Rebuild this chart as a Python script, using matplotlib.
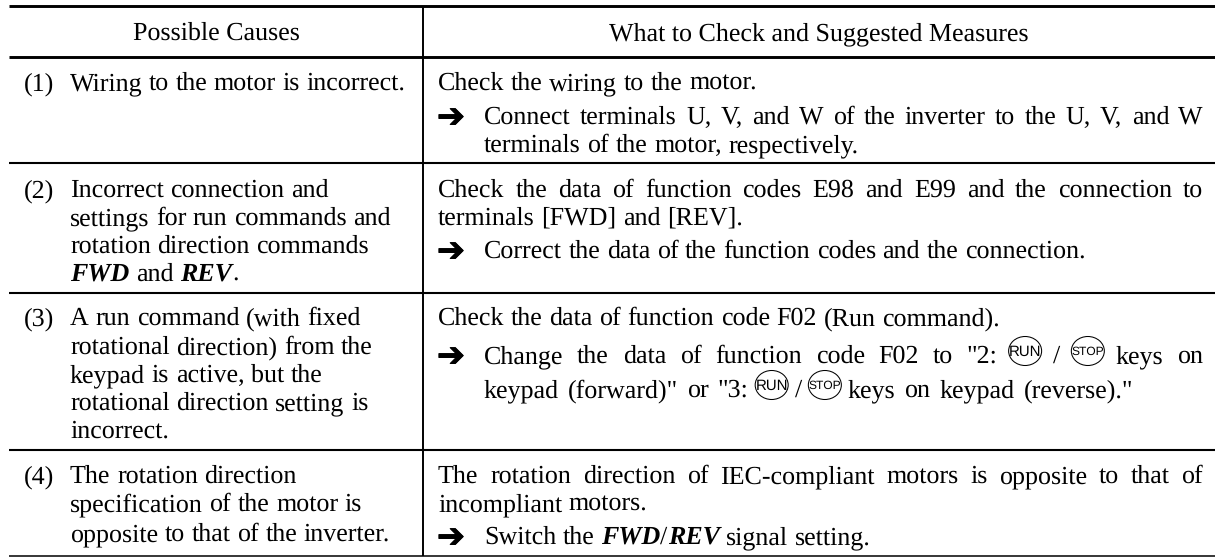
import re

from matplotlib import pyplot as plt
from matplotlib import patheffects
from matplotlib.patches import Ellipse

# table content, *x* is bold italic, {X} is a keypad key
headers = ["Possible Causes", "What to Check and Suggested Measures"]
row_numbers = ["(1)", "(2)", "(3)", "(4)"]
causes = [
    ["Wiring to the motor is incorrect."],
    ["Incorrect connection and", "settings for run commands and", "rotation direction commands", "*FWD* and *REV*."],
    ["A run command (with fixed", "rotational direction) from the", "keypad is active, but the",
     "rotational direction setting is", "incorrect."],
    ["The rotation direction", "specification of the motor is", "opposite to that of the inverter."],
]
cause_baselines = [
    [90],
    [197, 225, 253, 281],
    [325, 354, 382, 410, 438],
    [483, 511, 541],
]
# (text, baseline, arrow bullet, right edge when the line is stretched)
measures = [
    ("Check the wiring to the motor.", 90, False, None),
    ("Connect terminals U, V, and W of the inverter to the U, V, and W", 124, True, 1203),
    ("terminals of the motor, respectively.", 152, "indent", None),
    ("Check the data of function codes E98 and E99 and the connection to", 197, False, 1203),
    ("terminals [FWD] and [REV].", 225, False, None),
    ("Correct the data of the function codes and the connection.", 258, True, None),
    ("Check the data of function code F02 (Run command).", 325, False, None),
    ('Change the data of function code F02 to "2: {RUN} / {STOP} keys on', 363, True, 1203),
    ('keypad (forward)" or "3: {RUN} / {STOP} keys on keypad (reverse)."', 397, "indent", 1133),
    ("The rotation direction of IEC-compliant motors is opposite to that of", 483, False, 1203),
    ("incompliant motors.", 511, False, None),
    ("Switch the *FWD*/*REV* signal setting.", 544, True, None),
]
cause_right_edges = {"Wiring to the motor is incorrect.": 405}

heavy_rules = [5.5, 56.5]
light_rules = [163, 293, 450]
bottom_rule = 556

SERIF = "Liberation Serif"
SIZE = 19.0
LEFT, SPLIT, RIGHT_EDGE = 9, 423, 1215
KEY_W, KEY_H = 33, 29
KEY_ADVANCE = 28

plt.rcParams["font.family"] = SERIF
plt.rcParams["text.hinting"] = "no_hinting"
plt.rcParams["text.hinting_factor"] = 1

fig = plt.figure(figsize=(12.15, 5.57), dpi=100)
ax = fig.add_axes([0, 0, 1, 1])
ax.set_xlim(0, 1215)
ax.set_ylim(557, 0)
ax.axis("off")
renderer = fig.canvas.get_renderer()


def text_width(s, bold):
    t = ax.text(0, 0, s, fontsize=SIZE, fontstyle="italic" if bold else "normal",
                fontweight="bold" if bold else "normal")
    w = t.get_window_extent(renderer).width
    t.remove()
    return w


def parse_word(word):
    # one word -> list of (kind, text, width)
    parts = []
    for piece in re.split(r"(\*[^*]+\*|\{[^}]+\})", word):
        if not piece:
            continue
        if piece[0] == "*":
            parts.append(("bold", piece[1:-1], text_width(piece[1:-1], True)))
        elif piece[0] == "{":
            parts.append(("key", piece[1:-1], KEY_ADVANCE))
        else:
            parts.append(("plain", piece, text_width(piece, False)))
    return parts


def draw_key(x, y, label):
    cy = y - 12
    cx = x + KEY_ADVANCE / 2
    ax.add_patch(Ellipse((cx, cy), KEY_W, KEY_H, fill=False, lw=0.75, ec="black"))
    ax.text(cx, cy + 0.5, label, family="Liberation Sans", ha="center", va="center",
            fontsize=10.5 if label == "RUN" else 8.3, color="black")


def draw_line(x, y, line, right=None):
    words = [parse_word(w) for w in line.split(" ")]
    widths = [sum(p[2] for p in w) for w in words]
    gap = SIZE / 0.72 * 0.25
    if right is not None and len(words) > 1:
        gap = (right - x - sum(widths)) / (len(words) - 1)
    for word, width in zip(words, widths):
        px = x
        for kind, s, w in word:
            if kind == "key":
                draw_key(px, y, s)
            else:
                bold = kind == "bold"
                ax.text(px, y, s, fontsize=SIZE, va="baseline", color="black",
                        fontstyle="italic" if bold else "normal",
                        fontweight="bold" if bold else "normal")
            px += w
        x += width + gap


###
# Rules
for y in heavy_rules:
    ax.plot([LEFT, RIGHT_EDGE], [y, y], color="black", lw=2.1, solid_capstyle="butt")
for y in light_rules:
    ax.plot([LEFT, RIGHT_EDGE], [y, y], color="black", lw=1.5, solid_capstyle="butt")
ax.plot([LEFT, RIGHT_EDGE], [bottom_rule, bottom_rule], color="black", lw=1.1, solid_capstyle="butt")
ax.plot([SPLIT, SPLIT], [heavy_rules[0], bottom_rule], color="black", lw=1.4, solid_capstyle="butt")
#
###

ax.text((LEFT + SPLIT) / 2, 40, headers[0], ha="center", va="baseline", fontsize=SIZE)
ax.text((SPLIT + RIGHT_EDGE) / 2, 40, headers[1], ha="center", va="baseline", fontsize=SIZE)

for num, lines, baselines in zip(row_numbers, causes, cause_baselines):
    ax.text(24, baselines[0], num, va="baseline", fontsize=SIZE)
    for line, y in zip(lines, baselines):
        draw_line(70, y, line, right=cause_right_edges.get(line))

for line, y, bullet, right in measures:
    x = 438
    if bullet:
        x = 484
    if bullet is True:
        ax.text(437, y + 3, "\u2794", family="DejaVu Sans", va="baseline", fontsize=24, fontweight="bold",
                path_effects=[patheffects.withStroke(linewidth=0.7, foreground="black")])
    draw_line(x, y, line, right=right)

fig.savefig("out.png", dpi=100)
